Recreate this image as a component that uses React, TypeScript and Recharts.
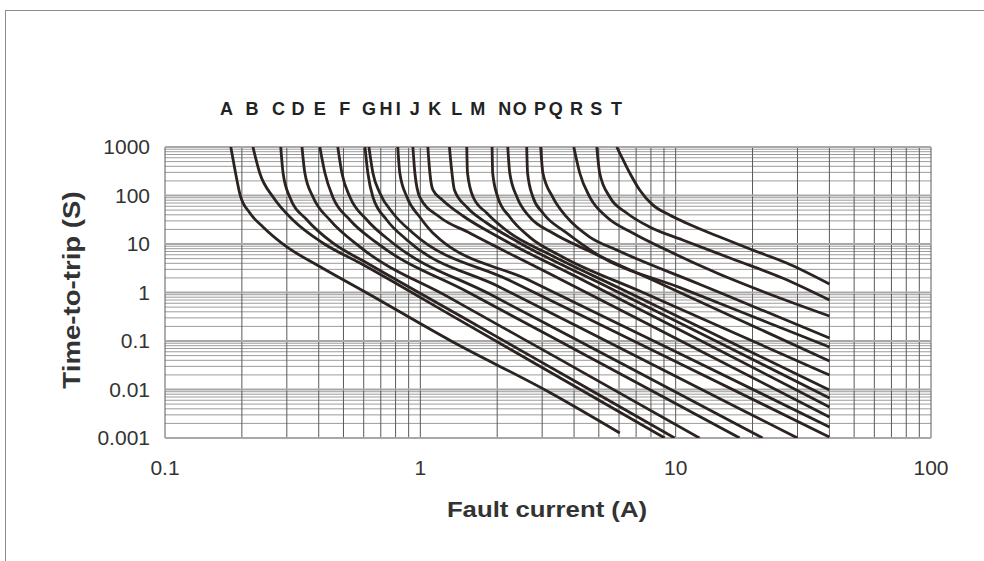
import { LineChart, Line, XAxis, YAxis, CartesianGrid, ReferenceLine } from 'recharts'

// curve letters, in the order they appear along the top of the grid
const curveNames = ['A', 'B', 'C', 'D', 'E', 'F', 'G', 'H', 'I', 'J', 'K', 'L', 'M', 'N', 'O', 'P', 'Q', 'R', 'S', 'T']
// where each letter sits above the grid (amps)
const labelAmps = [0.174, 0.219, 0.278, 0.332, 0.404, 0.506, 0.629, 0.733, 0.819, 0.952, 1.14, 1.39, 1.68, 2.14, 2.45, 2.94, 3.39, 4.09, 4.89, 5.86]

// [fault current (A), time-to-trip (s)]
const curveA = [[0.181, 1000], [0.188, 336], [0.197, 102], [0.215, 43.5], [0.242, 22.4], [0.3, 8.7], [0.394, 3.69], [0.618, 0.977], [1.32, 0.1], [3.24, 0.00847], [6.04, 0.00127]]
const curveB = [[0.221, 1000], [0.235, 291], [0.265, 93], [0.317, 31.3], [0.415, 10.5], [0.58, 4.06], [1.43, 0.266], [3.52, 0.0174], [9.06, 0.001]]
const curveC = [[0.284, 1000], [0.29, 291], [0.308, 93], [0.36, 31.3], [0.454, 10.5], [0.618, 4.06], [1.43, 0.331], [3.85, 0.017], [9.91, 0.001]]
const curveD = [[0.344, 1000], [0.353, 291], [0.38, 93], [0.442, 31.3], [0.58, 8.7], [1.3, 0.785], [3.52, 0.0418], [12.4, 0.001]]
const curveE = [[0.404, 1000], [0.423, 291], [0.454, 93], [0.53, 31.3], [0.676, 10.5], [1.56, 0.977], [5.04, 0.0356], [17.8, 0.001]]
const curveF = [[0.475, 1000], [0.493, 291], [0.53, 93], [0.618, 31.3], [0.78, 10.5], [1.87, 0.927], [6.04, 0.0359], [21.9, 0.001]]
const curveG = [[0.607, 1000], [0.623, 291], [0.652, 93], [0.739, 31.3], [0.886, 12.1], [2.05, 1.29], [7.23, 0.0446], [30, 0.001]]
const curveH = [[0.629, 1000], [0.652, 291], [0.694, 113], [0.78, 43.5], [0.935, 16.9], [2.24, 1.77], [8.66, 0.0545], [40, 0.00105]]
const curveI = [[0.816, 1000], [0.831, 291], [0.886, 93], [0.995, 36.1], [1.12, 16.9], [2.68, 1.77], [10.4, 0.0546], [40, 0.00169]]
const curveJ = [[0.935, 1000], [0.952, 291], [0.995, 93], [1.19, 36.1], [1.56, 16.9], [3.52, 1.9], [12.4, 0.0637], [40, 0.00271]]
const curveK = [[1.07, 1000], [1.09, 291], [1.12, 130], [1.22, 81], [1.47, 37.8], [1.99, 14.6], [4.21, 1.94], [14.9, 0.0637], [40, 0.00436]]
const curveL = [[1.3, 1000], [1.33, 291], [1.36, 130], [1.52, 58], [1.82, 27.1], [2.45, 10.5], [5.04, 1.57], [16.3, 0.0718], [40, 0.00668]]
const curveM = [[1.52, 1000], [1.53, 291], [1.61, 93], [1.82, 43.5], [2.24, 16.9], [3.13, 6.5], [6.04, 1.22], [17.8, 0.0774], [40, 0.00977]]
const curveN = [[1.91, 1000], [1.92, 291], [2.01, 93], [2.24, 36.1], [2.68, 13.9], [3.61, 5.4], [7.23, 1.07], [19.5, 0.106], [40, 0.0199]]
const curveO = [[2.2, 1000], [2.24, 291], [2.39, 93], [2.68, 36.1], [3.3, 16.9], [4.49, 7.5], [8.66, 1.55], [21.3, 0.177], [40, 0.0387]]
const curveP = [[2.61, 1000], [2.63, 291], [2.76, 93], [3.02, 43.5], [3.74, 16.9], [5.04, 5.66], [10.4, 1.26], [23.3, 0.232], [40, 0.0752]]
const curveQ = [[2.96, 1000], [3.02, 291], [3.3, 93], [3.74, 36.1], [4.61, 13.9], [5.88, 7.5], [12.4, 1.48], [25.5, 0.308], [40, 0.115]]
const curveR = [[3.99, 1000], [4.21, 291], [4.61, 93], [5.37, 36.1], [6.79, 16.9], [9.22, 7.5], [14.5, 2.52], [22.7, 0.977], [40, 0.327]]
const curveS = [[4.91, 1000], [5.04, 291], [5.52, 93], [6.43, 43.5], [7.91, 22.4], [10.65, 12.1], [16.7, 4.91], [26.2, 1.99], [40, 0.7]]
const curveT = [[5.88, 1000], [6.04, 752], [6.61, 291], [7.23, 130], [8.13, 64], [9.47, 39.6], [11, 27.1], [14.9, 13.9], [20, 7.5], [27.2, 4.06], [40, 1.5]]

const curves = [curveA, curveB, curveC, curveD, curveE, curveF, curveG, curveH, curveI, curveJ,
  curveK, curveL, curveM, curveN, curveO, curveP, curveQ, curveR, curveS, curveT]

const decadesX = [0.1, 1, 10, 100]
const decadesY = [0.001, 0.01, 0.1, 1, 10, 100, 1000]
const multiples = [1, 2, 3, 4, 5, 6, 7, 8, 9]

// log grid: 1..9 within every decade
const logTicks = (decades: number[]) =>
  decades.slice(0, -1).flatMap(d => multiples.map(m => +(d * m).toPrecision(3))).concat(decades[decades.length - 1])

const gridX = logTicks(decadesX)
const gridY = logTicks(decadesY)

const fmtX = (v: number) => (decadesX.includes(v) ? String(v) : '')
const fmtY = (v: number) => (decadesY.includes(v) ? String(v) : '')

const INK = '#2b2320'
const FONT = '"Liberation Sans", Arial, Helvetica, sans-serif'

export default function App() {
  return (
    <div style={{ position: 'fixed', left: 0, top: 0, width: 984, height: 561, background: '#fff', fontFamily: FONT, overflow: 'hidden' }}>
      <div style={{ position: 'absolute', left: 5, top: 10, right: -4, bottom: -4, borderLeft: '1.5px solid #8c8c8c', borderTop: '1.5px solid #8c8c8c' }} />
      <LineChart width={984} height={561} margin={{ top: 107, right: 53, bottom: 83, left: 65 }} style={{ position: 'absolute', left: 0, top: 0 }}>
        <CartesianGrid vertical={false} stroke="#9c9c9c" strokeWidth={1} />
        <CartesianGrid horizontal={false} stroke="#5a5a5a" strokeWidth={1} />
        {decadesY.map(d => (
          <ReferenceLine key={d} y={d} stroke="#a8a8a8" strokeWidth={2} />
        ))}
        <XAxis dataKey="i" type="number" scale="log" domain={[0.1, 100]} allowDataOverflow ticks={gridX} interval={0}
          tickFormatter={fmtX} tickLine={false} axisLine={false} tickSize={0} tickMargin={22} height={40}
          tick={{ fontSize: 21, fill: '#333', fontFamily: FONT }} />
        <XAxis xAxisId="top" orientation="top" dataKey="i" type="number" scale="log" domain={[0.1, 100]} allowDataOverflow
          ticks={labelAmps} interval={0} tickFormatter={(_v: number, k: number) => curveNames[k]}
          tickLine={false} axisLine={false} tickSize={0} tickMargin={32} height={40}
          tick={{ fontSize: 18, fontWeight: 'bold', fill: '#222', fontFamily: FONT }} />
        <YAxis type="number" scale="log" domain={[0.001, 1000]} allowDataOverflow ticks={gridY} interval={0}
          tickFormatter={fmtY} tickLine={false} axisLine={false} tickSize={0} tickMargin={15} width={100}
          tick={{ fontSize: 21, fill: '#333', fontFamily: FONT }} />
        {curves.map((c, k) => (
          <Line key={curveNames[k]} data={c.map(([i, t]) => ({ i, t }))} dataKey="t" type="monotone"
            stroke={INK} strokeWidth={2.8} dot={false} isAnimationActive={false} />
        ))}
      </LineChart>
      <div style={{ position: 'absolute', left: 547, top: 510, transform: 'translate(-50%, -50%) scaleX(1.17)', fontSize: 22, fontWeight: 'bold', color: '#333', whiteSpace: 'nowrap' }}>
        Fault current (A)
      </div>
      <div style={{ position: 'absolute', left: 72, top: 290, transform: 'translate(-50%, -50%) rotate(-90deg) scaleX(1.15)', fontSize: 24, fontWeight: 'bold', color: '#333', whiteSpace: 'nowrap' }}>
        Time-to-trip (S)
      </div>
    </div>
  )
}
